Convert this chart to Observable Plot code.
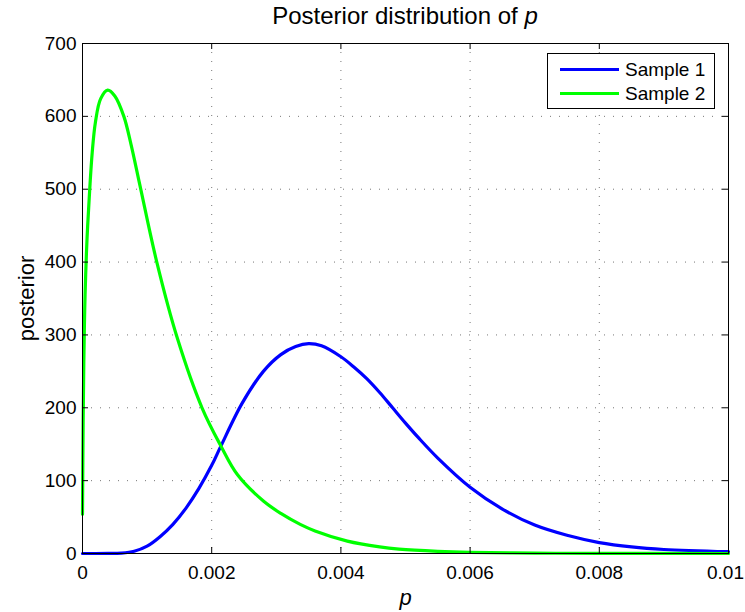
<!DOCTYPE html>
<html>
<head>
<meta charset="utf-8">
<script src="https://cdn.jsdelivr.net/npm/d3@7"></script>
<script src="https://cdn.jsdelivr.net/npm/@observablehq/plot@0.6"></script>
<style>
  html, body { margin: 0; padding: 0; background: #fff; }
  body { width: 745px; height: 612px; position: relative; overflow: hidden; font-family: "Liberation Sans", Arial, Helvetica, sans-serif; }
  #title { position: absolute; top: 0; left: 82px; width: 646px; height: 34px; line-height: 32px; text-align: center; font-size: 24px; color: #000; }
  #chart { position: absolute; top: 34px; left: 0; }
  #legend { position: absolute; left: 547px; top: 53px; width: 166px; height: 54px; border: 1px solid #000; background: #fff; }
  .item { position: absolute; left: 0; height: 24px; width: 166px; }
  .swatch { position: absolute; left: 12px; top: 10px; width: 59px; height: 3px; }
  .lab { position: absolute; left: 77px; top: 0; font-size: 19px; line-height: 24px; color: #000; white-space: nowrap; }
</style>
</head>
<body>
<div id="title"></div>
<div id="chart"></div>
<div id="legend"></div>
<script>
// ---- data ----
const titleText = "Posterior distribution of ";
const titleVar = "p";
const xLabel = "p";
const yLabel = "posterior";
const seriesNames = ["Sample 1", "Sample 2"];
const seriesColors = ["#0000ff", "#00ff00"];

const xTicks = [0, 0.002, 0.004, 0.006, 0.008, 0.01];
const xTickLabels = ["0", "0.002", "0.004", "0.006", "0.008", "0.01"];
const yTicks = [0, 100, 200, 300, 400, 500, 600, 700];
const yTickLabels = ["0", "100", "200", "300", "400", "500", "600", "700"];

// Sample 1 (blue)
const sample1P = [0, 0.0004, 0.0006, 0.0008, 0.001, 0.0012, 0.0014, 0.0016, 0.0018, 0.002, 0.00214, 0.00247, 0.0028, 0.00307, 0.0033, 0.0035, 0.0037, 0.004, 0.0042, 0.0044, 0.0046, 0.0048, 0.005, 0.0052, 0.0055, 0.006, 0.0065, 0.007, 0.0075, 0.008, 0.0085, 0.009, 0.01];
const sample1V = [0, 0.05, 0.5, 3, 10, 23, 40, 62, 89, 121, 147, 206, 250, 273, 284, 288, 285, 270, 256, 240, 221, 200, 179, 159, 131, 91, 61, 39, 25, 15, 9, 5.5, 2.5];

// Sample 2 (green)
const sample2P = [0, 0.00001, 0.00002, 0.00003, 0.00004, 0.00006, 0.00008, 0.00011, 0.00015, 0.0002, 0.00028, 0.00039, 0.0005, 0.00064, 0.00075, 0.00089, 0.00115, 0.00147, 0.00185, 0.00214, 0.0024, 0.0028, 0.00307, 0.00337, 0.0036, 0.0041, 0.0046, 0.0049, 0.0055, 0.006, 0.007, 0.008, 0.01];
const sample2V = [54, 180, 260, 315, 355, 410, 450, 497, 550, 592, 624, 636, 628, 600, 562, 505, 400, 295, 200, 148, 108, 72, 55, 40, 31, 17, 9, 6, 3, 1.6, 0.5, 0.15, 0];

// ---- build ----
const s1 = sample1P.map((p, i) => ({p, v: sample1V[i]}));
const s2 = sample2P.map((p, i) => ({p, v: sample2V[i]}));

const font = '"Liberation Sans", Arial, Helvetica, sans-serif';
const W = 745, H = 578, mT = 9, mB = 59, mL = 82, mR = 17;
const yDom = [0, 700], xDom = [0, 0.01];
const tickPx = 6;
const tyLen = tickPx / (H - mT - mB) * (yDom[1] - yDom[0]);
const txLen = tickPx / (W - mL - mR) * (xDom[1] - xDom[0]);
const lastX = xTicks[xTicks.length - 1];

const chart = Plot.plot({
  width: W, height: H,
  marginTop: mT, marginBottom: mB, marginLeft: mL, marginRight: mR,
  style: {fontFamily: font, fontSize: "19px", color: "#000", background: "transparent", overflow: "visible"},
  x: {domain: xDom},
  y: {domain: yDom},
  marks: [
    Plot.gridX(xTicks.slice(1, -1), {stroke: "#555", strokeOpacity: 0.8, strokeDasharray: "1,8"}),
    Plot.gridY(yTicks.slice(1, -1), {stroke: "#555", strokeOpacity: 0.8, strokeDasharray: "1,8"}),
    Plot.line(s1, {x: "p", y: "v", stroke: seriesColors[0], strokeWidth: 3.2, curve: "catmull-rom"}),
    Plot.line(s2, {x: "p", y: "v", stroke: seriesColors[1], strokeWidth: 3.2, curve: "catmull-rom"}),
    Plot.frame({stroke: "#000", strokeWidth: 1}),
    Plot.ruleX(xTicks, {y1: yDom[0], y2: yDom[0] + tyLen, stroke: "#000"}),
    Plot.ruleX(xTicks, {y1: yDom[1] - tyLen, y2: yDom[1], stroke: "#000"}),
    Plot.ruleY(yTicks, {x1: xDom[0], x2: xDom[0] + txLen, stroke: "#000"}),
    Plot.ruleY(yTicks, {x1: xDom[1] - txLen, x2: xDom[1], stroke: "#000"}),
    Plot.axisX({ticks: xTicks.slice(0, -1), tickFormat: d => xTickLabels[xTicks.indexOf(d)], tickSize: 0, tickPadding: 12, fontSize: 19, label: null}),
    Plot.axisX({ticks: [lastX], tickFormat: d => xTickLabels[xTicks.indexOf(d)], tickSize: 0, tickPadding: 12, fontSize: 19, label: null, dx: -3}),
    Plot.axisY({ticks: yTicks, tickFormat: d => yTickLabels[yTicks.indexOf(d)], tickSize: 0, tickPadding: 6, fontSize: 19, label: null}),
    Plot.text([xLabel], {frameAnchor: "bottom", dy: 44, text: d => d, fontStyle: "italic", fontSize: 22, lineAnchor: "middle"}),
    Plot.text([yLabel], {frameAnchor: "left", dx: -56, rotate: -90, text: d => d, fontSize: 22, textAnchor: "middle", lineAnchor: "middle"})
  ]
});
document.getElementById("chart").appendChild(chart);

const t = document.getElementById("title");
t.appendChild(document.createTextNode(titleText));
const it = document.createElement("i");
it.textContent = titleVar;
t.appendChild(it);

const lg = document.getElementById("legend");
seriesNames.forEach((name, i) => {
  const row = document.createElement("div");
  row.className = "item";
  row.style.top = (4 + i * 24) + "px";
  const sw = document.createElement("div");
  sw.className = "swatch";
  sw.style.background = seriesColors[i];
  const lab = document.createElement("div");
  lab.className = "lab";
  lab.textContent = name;
  row.appendChild(sw);
  row.appendChild(lab);
  lg.appendChild(row);
});
</script>
</body>
</html>
